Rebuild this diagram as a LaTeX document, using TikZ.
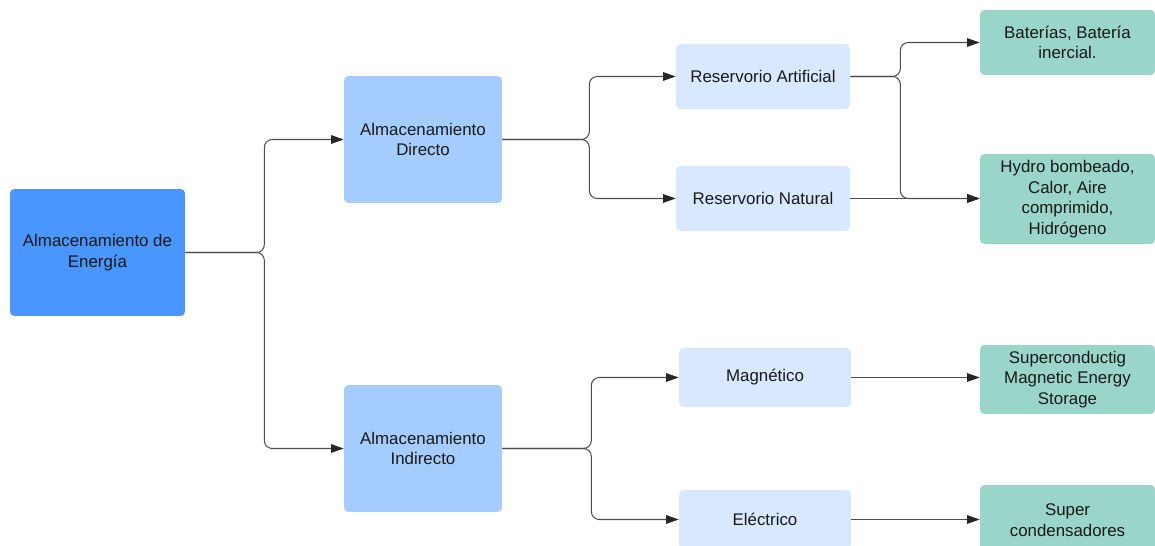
\documentclass[tikz,border=0pt]{standalone}
\usepackage{fontspec}
\setmainfont{Liberation Sans}
\usetikzlibrary{arrows.meta, calc}
\definecolor{raiz}{HTML}{4A96FF}
\definecolor{medio}{HTML}{A5CCFF}
\definecolor{claro}{HTML}{D8E8FF}
\definecolor{verde}{HTML}{99D5C9}
\definecolor{linea}{HTML}{4D4D4D}
\tikzset{
  caja/.style={rounded corners=2.5pt, align=center, inner sep=2pt, text=black!90},
  raizbox/.style={caja, fill=raiz, minimum width=3.5cm, minimum height=2.54cm},
  tipobox/.style={caja, fill=medio, minimum width=3.16cm, minimum height=2.54cm},
  medbox/.style={caja, fill=claro, minimum width=3.48cm},
  finbox/.style={caja, fill=verde, minimum width=3.5cm},
  flecha/.style={->, draw=linea, line width=0.6pt, rounded corners=4.5pt}
}

\begin{document}
\begin{tikzpicture}[x=0.02cm, y=-0.02cm, font=\fontsize{9.6}{11.7}\selectfont, >={Triangle[length=2.5mm, width=1.7mm, color=black!85]}]
  \useasboundingbox (0,0) rectangle (1155,546);
  % niveles
  \node[raizbox] (energia) at (97.5,252.5) {Almacenamiento de\\Energía};
  \node[tipobox] (directo) at (423,139.5) {Almacenamiento\\Directo};
  \node[tipobox] (indirecto) at (423,448.5) {Almacenamiento\\Indirecto};
  \node[medbox, minimum height=1.3cm] (artificial) at (763,76.5) {Reservorio Artificial};
  \node[medbox, minimum height=1.3cm] (natural) at (763,198.5) {Reservorio Natural};
  \node[medbox, minimum width=3.44cm, minimum height=1.18cm] (magnetico) at (765,377.5) {Magnético};
  \node[medbox, minimum width=3.44cm, minimum height=1.18cm] (electrico) at (765,519.5) {Eléctrico};
  \node[finbox, minimum height=1.3cm] (baterias) at (1067.5,42.5) {Baterías, Batería\\inercial.};
  \node[finbox, minimum height=1.8cm] (hidro) at (1067.5,199) {Hydro bombeado,\\Calor, Aire\\comprimido,\\Hidrógeno};
  \node[finbox, minimum height=1.38cm] (smes) at (1067.5,379.5) {Superconductig\\Magnetic Energy\\Storage};
  \node[finbox, minimum height=1.4cm] (supercap) at (1067.5,520) {Super\\condensadores};
  % conexiones
  \draw[flecha] (energia.east) -- ++(79,0) |- (directo.west);
  \draw[flecha] (energia.east) -- ++(79,0) |- (indirecto.west);
  \draw[flecha] (directo.east) -- ++(87,0) |- (artificial.west);
  \draw[flecha] (directo.east) -- ++(87,0) |- (natural.west);
  \draw[flecha] (indirecto.east) -- ++(89,0) |- (magnetico.west);
  \draw[flecha] (indirecto.east) -- ++(89,0) |- (electrico.west);
  \draw[flecha] (artificial.east) -- ++(50,0) |- (natural.east -| hidro.west);
  \draw[flecha] (artificial.east) -- ++(50,0) |- (baterias.west);
  \draw[flecha] (natural.east) -- (natural.east -| hidro.west);
  \draw[flecha] (magnetico.east) -- (magnetico.east -| smes.west);
  \draw[flecha] (electrico.east) -- (electrico.east -| supercap.west);
\end{tikzpicture}
\end{document}
